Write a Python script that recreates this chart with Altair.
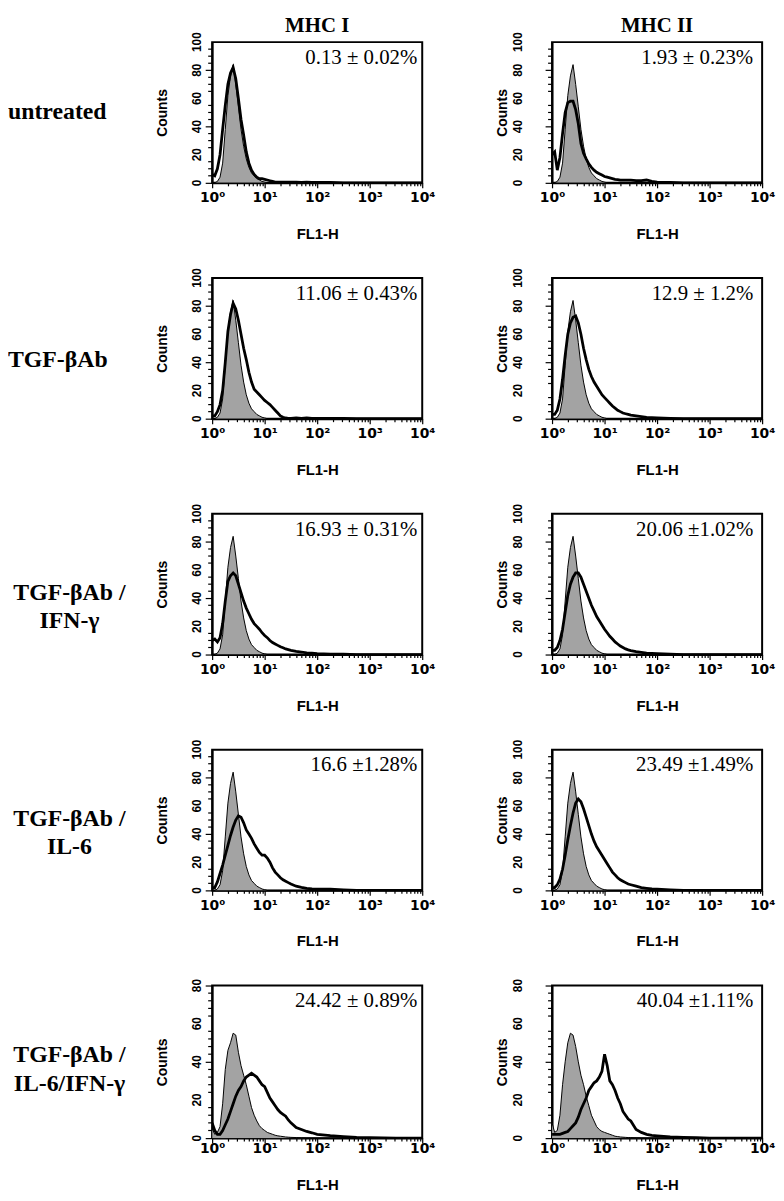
import altair as alt
import pandas as pd

# FL1-H channel positions (bin centres)
FL1 = [1.000, 1.122, 1.259, 1.413, 1.585, 1.778, 1.995, 2.239, 2.512, 2.818,
       3.162, 3.548, 3.981, 4.467, 5.012, 5.623, 6.310, 7.079, 7.943, 8.913,
       10.00, 11.22, 12.59, 14.13, 15.85, 17.78, 19.95, 22.39, 25.12, 28.18,
       31.62, 39.81, 50.12, 63.10, 79.43, 100.0, 177.8, 316.2, 562.3, 1000.0,
       3162.0, 10000.0]

# isotype control (grey filled) rows 1-4
CTRL_R1_4 = [0, 0, 1, 4, 14, 38, 62, 76, 84, 70,
             54, 38, 26, 17, 11, 7, 5, 3, 2, 1,
             0.5, 0, 0, 0, 0, 0, 0, 0, 0, 0,
             0, 0, 0, 0, 0, 0, 0, 0, 0, 0,
             0, 0]
CTRL_R5_MHC1 = [5, 2, 3, 6, 18, 36, 46, 50, 55, 54,
                45, 38, 33, 28, 22, 16, 12, 9, 6.5, 5,
                4, 3, 2.5, 2, 1.5, 1.2, 1, 0.8, 0.6, 0.5,
                0.4, 0.3, 0.2, 0, 0, 0, 0, 0, 0, 0,
                0, 0]
CTRL_R5_MHC2 = [8, 3, 4, 12, 28, 40, 50, 55, 54, 48,
                40, 33, 28, 22, 17, 12, 9, 6, 4.5, 3.5,
                3, 2.5, 2, 1.5, 1, 0.8, 0.6, 0.5, 0.4, 0.3,
                0.3, 0.2, 0, 0, 0, 0, 0, 0, 0, 0,
                0, 0]

# stained samples (thick black line) - MHC I
MHC1_UNTREATED = [6, 5, 10, 20, 38, 55, 70, 78, 82, 74,
                  60, 45, 34, 22, 14, 9, 6, 4, 3, 3,
                  2.5, 2, 1.5, 1, 0.5, 0.5, 0.5, 0.5, 0.5, 0.5,
                  0.5, 0.5, 0.3, 0.5, 0.3, 0.3, 0.3, 0, 0, 0,
                  0, 0]
MHC1_TGF = [2, 2, 5, 10, 20, 40, 62, 74, 82, 78,
            70, 60, 50, 42, 33, 26, 21, 19, 17, 15,
            13, 11.5, 10, 8, 6, 4, 2, 1, 0.5, 0.3,
            0.3, 0.5, 0.3, 0.5, 0.3, 0.3, 0.3, 0.3, 0, 0,
            0, 0]
MHC1_TGF_IFN = [10, 11, 9, 12, 22, 38, 52, 56, 58, 56,
                50, 44, 38, 33, 29, 25, 22, 20, 18, 15.5,
                13.5, 12, 10, 8.5, 7.5, 6.5, 5.5, 4.8, 4, 3.5,
                3, 2.3, 1.8, 1.2, 1, 0.7, 0.3, 0.2, 0, 0,
                0, 0]
MHC1_TGF_IL6 = [2, 2, 6, 12, 18, 25, 32, 39, 45, 50,
                53, 52, 48, 43, 40, 37, 33, 30, 27, 25,
                25, 23, 20, 16, 13, 11, 9, 7.5, 6.5, 5.5,
                4.5, 3, 2.2, 1.5, 1, 0.8, 0.8, 0.3, 0, 0,
                0, 0]
MHC1_TGF_IL6_IFN = [8, 4, 2, 2, 4, 7, 10, 14, 18, 22,
                    25, 27, 30, 32, 33, 34, 33, 32, 30, 28,
                    27, 24, 21, 19, 17, 15, 13.5, 12.5, 11.5, 9.5,
                    8, 5.5, 4.5, 3.5, 2.8, 2, 1.3, 0.8, 0.4, 0.2,
                    0, 0]

# stained samples - MHC II
MHC2_UNTREATED = [20, 22, 9, 18, 35, 50, 57, 58, 58, 52,
                  42, 28, 21, 17, 13.5, 11, 9, 7.5, 6.5, 5.5,
                  4.5, 4, 3.5, 3, 2.5, 2.3, 2, 2, 2, 2,
                  2, 1.5, 1.5, 2, 1, 0.5, 0.3, 0, 0, 0,
                  0, 0]
MHC2_TGF = [3, 3, 6, 14, 28, 45, 60, 68, 72, 73,
            68, 60, 50, 42, 35, 30, 26, 23, 20, 17,
            15, 13, 11, 9, 7.5, 6, 5, 4, 3.5, 3,
            2.5, 2, 1.5, 1, 0.8, 0.6, 0.3, 0, 0, 0,
            0, 0]
MHC2_TGF_IFN = [3, 3, 5, 10, 18, 30, 42, 50, 55, 58,
                58, 55, 50, 45, 40, 35, 31, 27, 24, 21,
                18, 15.5, 13, 11, 9, 7.5, 6, 5, 4, 3.3,
                2.8, 2, 1.5, 1, 0.8, 0.6, 0.3, 0, 0, 0,
                0, 0]
MHC2_TGF_IL6 = [2, 2, 4, 8, 15, 25, 36, 46, 55, 62,
                65, 63, 58, 52, 46, 40, 35, 31, 28, 25,
                22, 19, 16, 13, 11, 9, 7.5, 6.5, 5.5, 4.5,
                4, 3, 2, 1.5, 1, 0.8, 0.4, 0, 0, 0,
                0, 0]
MHC2_TGF_IL6_IFN = [2, 2, 2, 2, 2.5, 3, 3.5, 5, 6.5, 8,
                    11, 15, 18, 21, 25, 27, 29, 30, 32, 35,
                    44, 38, 30, 28, 25, 21, 18, 14, 12, 10,
                    9, 4.5, 3, 2, 1.5, 1.2, 0.6, 0.4, 0.2, 0,
                    0, 0]

PCT_MHC1 = ["0.13 ± 0.02%", "11.06 ± 0.43%", "16.93 ± 0.31%", "16.6 ±1.28%", "24.42 ± 0.89%"]
PCT_MHC2 = ["1.93 ± 0.23%", "12.9 ± 1.2%", "20.06 ±1.02%", "23.49 ±1.49%", "40.04 ±1.11%"]
COLUMNS = ["MHC I", "MHC II"]
ROW_LABELS = [["untreated"], ["TGF-βAb"], ["TGF-βAb /", "IFN-γ"],
              ["TGF-βAb /", "IL-6"], ["TGF-βAb /", "IL-6/IFN-γ"]]
Y_MAX = [100, 100, 100, 100, 80]
X_TICKS = [1, 2, 3, 4, 5, 6, 7, 8, 9,
           10, 20, 30, 40, 50, 60, 70, 80, 90,
           100, 200, 300, 400, 500, 600, 700, 800, 900,
           1000, 2000, 3000, 4000, 5000, 6000, 7000, 8000, 9000, 10000]
Y_MAJOR_100 = [0, 20, 40, 60, 80, 100]
Y_MINOR_100 = [5, 10, 15, 25, 30, 35, 45, 50, 55, 65, 70, 75, 85, 90, 95]
Y_MAJOR_80 = [0, 20, 40, 60, 80]
Y_MINOR_80 = [4, 8, 12, 16, 24, 28, 32, 36, 44, 48, 52, 56, 64, 68, 72, 76]

CONTROLS = [[CTRL_R1_4] * 4 + [CTRL_R5_MHC1], [CTRL_R1_4] * 4 + [CTRL_R5_MHC2]]
TREATED = [[MHC1_UNTREATED, MHC1_TGF, MHC1_TGF_IFN, MHC1_TGF_IL6, MHC1_TGF_IL6_IFN],
           [MHC2_UNTREATED, MHC2_TGF, MHC2_TGF_IFN, MHC2_TGF_IL6, MHC2_TGF_IL6_IFN]]
PCTS = [PCT_MHC1, PCT_MHC2]

W = 212
HEIGHTS = [142, 142, 142, 142, 154]
LABEL_W = 75
SANS = "Liberation Sans"
SERIF = "Liberation Serif"

X_LABEL_EXPR = ("datum.value == 1 ? '10⁰' : datum.value == 10 ? '10¹' : "
                "datum.value == 100 ? '10²' : datum.value == 1000 ? '10³' : "
                "datum.value == 10000 ? '10⁴' : ''")
X_MAJOR = "indexof([1,10,100,1000,10000], datum.value) >= 0"

one = pd.DataFrame({"k": [0]})


def panel(c, r):
    ymax = Y_MAX[r]
    h = HEIGHTS[r]
    df = pd.DataFrame({"fl1": FL1, "control": CONTROLS[c][r], "treated": TREATED[c][r]})
    last = r == 4
    xaxis = alt.Axis(values=X_TICKS, labelExpr=X_LABEL_EXPR, labelOverlap=False,
                     labelFlush=False, title="FL1-H", titleFont=SANS, titleFontSize=15,
                     titleFontWeight="bold", labelFont="DejaVu Sans", labelFontSize=14,
                     labelFontWeight="bold",
                     tickSize={"condition": {"test": X_MAJOR, "value": 5}, "value": 3},
                     labelPadding=-1 if last else 3, titlePadding=22,
                     domainWidth=2, tickWidth=1.2, grid=False)
    major = Y_MAJOR_80 if ymax == 80 else Y_MAJOR_100
    minor = Y_MINOR_80 if ymax == 80 else Y_MINOR_100
    yaxis = alt.Axis(values=major, labels=False, tickSize=7, title="Counts",
                     titleFont=SANS, titleFontSize=14, titleFontWeight="bold",
                     titlePadding=35, domainWidth=2, tickWidth=1.2, grid=False)
    yscale = alt.Scale(domain=[0, ymax], nice=False)
    xs = alt.X("fl1:Q", scale=alt.Scale(type="log", domain=[1, 10000], nice=False), axis=xaxis)
    base = alt.Chart(df)
    fill = base.mark_area(color="#a3a3a3", clip=True).encode(
        x=xs, y=alt.Y("control:Q", scale=yscale, axis=yaxis))
    outline = base.mark_line(color="black", strokeWidth=1, clip=True).encode(x="fl1:Q", y="control:Q")
    treat = base.mark_line(color="black", strokeWidth=2.8, clip=True).encode(x="fl1:Q", y="treated:Q")
    ticks = alt.Chart(pd.DataFrame({"control": minor})).mark_rule(
        color="black", strokeWidth=1.2).encode(
        y=alt.Y("control:Q", scale=yscale, axis=yaxis), x=alt.value(-4), x2=alt.value(0))
    ylabs = alt.Chart(pd.DataFrame({"control": major, "lab": [str(v) for v in major]})).mark_text(
        angle=270, font=SANS, fontSize=12, fontWeight="bold", align="center",
        baseline="bottom", color="black").encode(
        y=alt.Y("control:Q", scale=yscale, axis=yaxis),
        x=alt.value(-8 if c == 0 else -27), text="lab:N")
    pct = alt.Chart(one).mark_text(font=SERIF, fontSize=21, align="right",
                                   baseline="alphabetic", color="black").encode(
        x=alt.value(W - (5 if c == 0 else 9)), y=alt.value(22), text=alt.value(PCTS[c][r]))
    ch = alt.layer(fill, outline, treat, ticks, ylabs, pct).properties(width=W, height=h)
    if r == 0:
        ch = ch.properties(title=alt.TitleParams(COLUMNS[c], font=SERIF, fontSize=21,
                                                 fontWeight="bold", color="black",
                                                 anchor="middle", offset=-4, frame="group"))
    return ch


LABEL_Y = [[71], [83], [80, 108], [70, 98], [70, 99]]


def label(r):
    lines = ROW_LABELS[r]
    layers = []
    for t, y in zip(lines, LABEL_Y[r]):
        if len(lines) == 1:
            m = alt.Chart(one).mark_text(font=SERIF, fontSize=24, fontWeight="bold",
                                         align="left", baseline="middle", color="black")
            layers.append(m.encode(x=alt.value(0), y=alt.value(y), text=alt.value(t)))
        else:
            m = alt.Chart(one).mark_text(font=SERIF, fontSize=24, fontWeight="bold",
                                         align="center", baseline="middle", color="black")
            layers.append(m.encode(x=alt.value(62), y=alt.value(y), text=alt.value(t)))
    return alt.layer(*layers).properties(width=LABEL_W, height=HEIGHTS[r],
                                         view=alt.ViewBackground(strokeWidth=0))


cells = []
for r in range(5):
    cells.append(label(r))
    cells.append(panel(0, r))
    cells.append(panel(1, r))

chart = alt.concat(*cells, columns=3, spacing={"row": 96, "column": 131},
                   bounds="flush", align="each").properties(
    padding=0, background="white"
).configure_view(stroke="black", strokeWidth=2).configure_axis(
    labelColor="black", titleColor="black", domainColor="black", tickColor="black"
)

chart.save("out.html", embed_options={"renderer": "svg", "actions": False})
